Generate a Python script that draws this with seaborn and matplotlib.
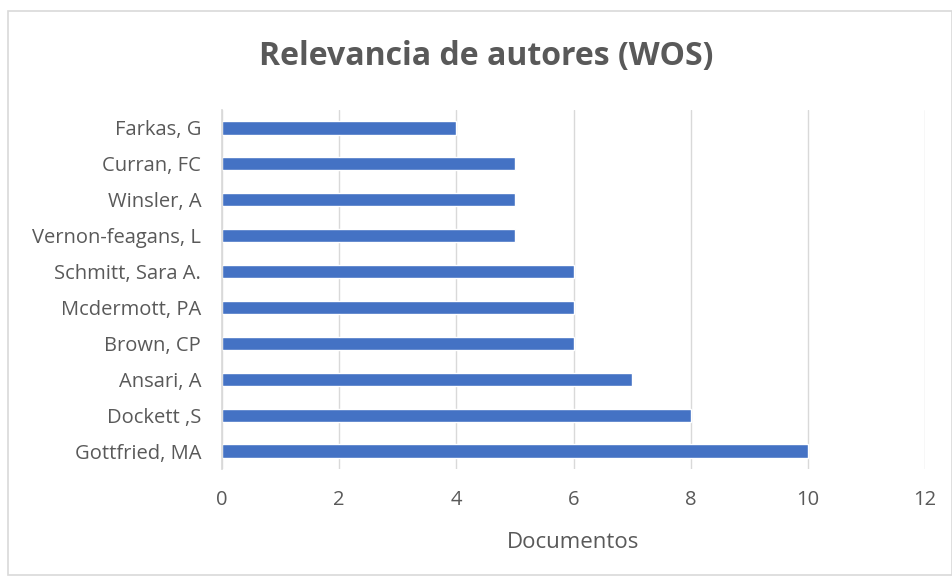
import matplotlib
matplotlib.use("Agg")
import matplotlib.pyplot as plt
import seaborn as sns
import pandas as pd
from matplotlib.patches import Rectangle

authors = ["Farkas, G", "Curran, FC", "Winsler, A", "Vernon-feagans, L", "Schmitt, Sara A.",
           "Mcdermott, PA", "Brown, CP", "Ansari, A", "Dockett ,S", "Gottfried, MA"]
docs = [4, 5, 5, 5, 6, 6, 6, 7, 8, 10]
xticks = [0, 2, 4, 6, 8, 10, 12]

sns.set_theme(style="white")
plt.rcParams['font.family'] = ['Open Sans', 'DejaVu Sans']

df = pd.DataFrame({"Autor": authors, "Documentos": docs})

fig = plt.figure(figsize=(9.52, 5.79), dpi=100)
fig.patches.append(Rectangle((8/952, 4/579), (952-8)/952, (579-11-4)/579, transform=fig.transFigure,
                             fill=False, edgecolor="#d9d9d9", linewidth=1.2))
ax = fig.add_axes([222/952, 1-469/579, (925-222)/952, (469-110)/579])
sns.barplot(data=df, y="Autor", x="Documentos", color="#4472C4", width=0.37, ax=ax, saturation=1, zorder=3)
ax.set_xlim(0, 12)
ax.set_xticks(xticks)
ax.set_xticklabels([str(t) for t in xticks])
ax.grid(axis="x", color="#d9d9d9", linewidth=1, zorder=0)
for s in ["top", "right", "bottom"]:
    ax.spines[s].set_visible(False)
ax.spines["left"].set_color("#d9d9d9")
ax.spines["left"].set_zorder(4)
ax.tick_params(axis="both", length=0, labelcolor="#595959", labelsize=14.5)
ax.tick_params(axis="x", pad=15)
ax.tick_params(axis="y", pad=15)
ax.set_ylabel("")
ax.set_xlabel("Documentos", color="#595959", fontsize=16, labelpad=16)
fig.text(486/952, 1-57/579, "Relevancia de autores (WOS)", ha="center", va="center",
         fontsize=23, fontweight="bold", color="#595959")
fig.savefig("out.png", dpi=100)
